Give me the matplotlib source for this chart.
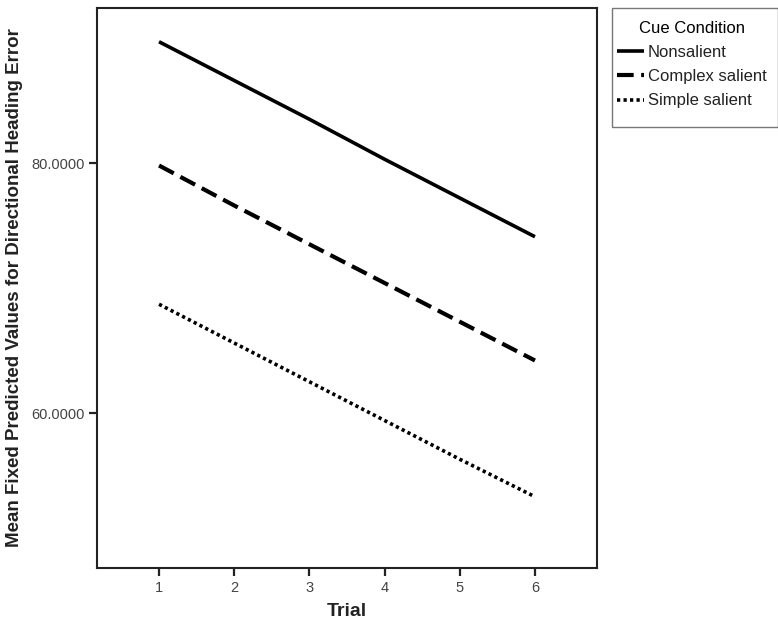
import matplotlib
matplotlib.use("Agg")
import matplotlib.pyplot as plt
import matplotlib.patches as mpatches

plt.rcParams["font.family"] = ["Liberation Sans", "DejaVu Sans"]

trials = [1, 2, 3, 4, 5, 6]
nonsalient = [89.7, 86.6, 83.5, 80.3, 77.2, 74.1]
complex_salient = [79.8, 76.6, 73.5, 70.4, 67.3, 64.2]
simple_salient = [68.7, 65.6, 62.5, 59.4, 56.3, 53.3]
series_labels = ["Nonsalient", "Complex salient", "Simple salient"]
y_ticks = [60, 80]

fig = plt.figure(figsize=(7.78, 6.26), dpi=100)
ax = fig.add_axes([97 / 778, 58 / 626, 500 / 778, 560 / 626])

ax.plot(trials, nonsalient, color="black", lw=2.6, solid_capstyle="butt", label=series_labels[0])
ax.plot(trials, complex_salient, color="black", lw=3, dashes=(4, 1.8), dash_capstyle="butt",
        label=series_labels[1])
ax.plot(trials, simple_salient, color="black", lw=2.6, dashes=(0.9, 0.9), dash_capstyle="butt",
        label=series_labels[2])

ax.set_xlim(0.175, 6.825)
ax.set_ylim(47.6, 92.4)
ax.set_xticks(trials)
ax.set_yticks(y_ticks)
ax.set_yticklabels([f"{v:.4f}" for v in y_ticks])
ax.tick_params(direction="out", length=6, width=1.6, colors="#222222",
               labelcolor="#444444", labelsize=10.5, pad=3)

for s in ax.spines.values():
    s.set_linewidth(1.5)
    s.set_color("#222222")

ax.set_xlabel("Trial", fontsize=14, fontweight="bold", color="#222222", labelpad=6)
ax.set_ylabel("Mean Fixed Predicted Values for Directional Heading Error",
              fontsize=13.5, fontweight="bold", color="#222222", labelpad=6)

# legend box
fig.patches.append(mpatches.Rectangle((612 / 778, 1 - 127 / 626), 166 / 778, 119 / 626,
                                      transform=fig.transFigure, fill=False,
                                      edgecolor="#777777", lw=1.0))
handles, labels = ax.get_legend_handles_labels()
leg = fig.legend(handles, labels, title="Cue Condition", loc="upper left",
                 bbox_to_anchor=(617 / 778, 1 - 21 / 626), frameon=False,
                 fontsize=12, title_fontsize=12, handlelength=1.6,
                 handletextpad=0.25, labelspacing=0.55, borderpad=0, borderaxespad=0)
for t in leg.get_texts():
    t.set_color("#222222")

fig.savefig("out.png", dpi=100)
